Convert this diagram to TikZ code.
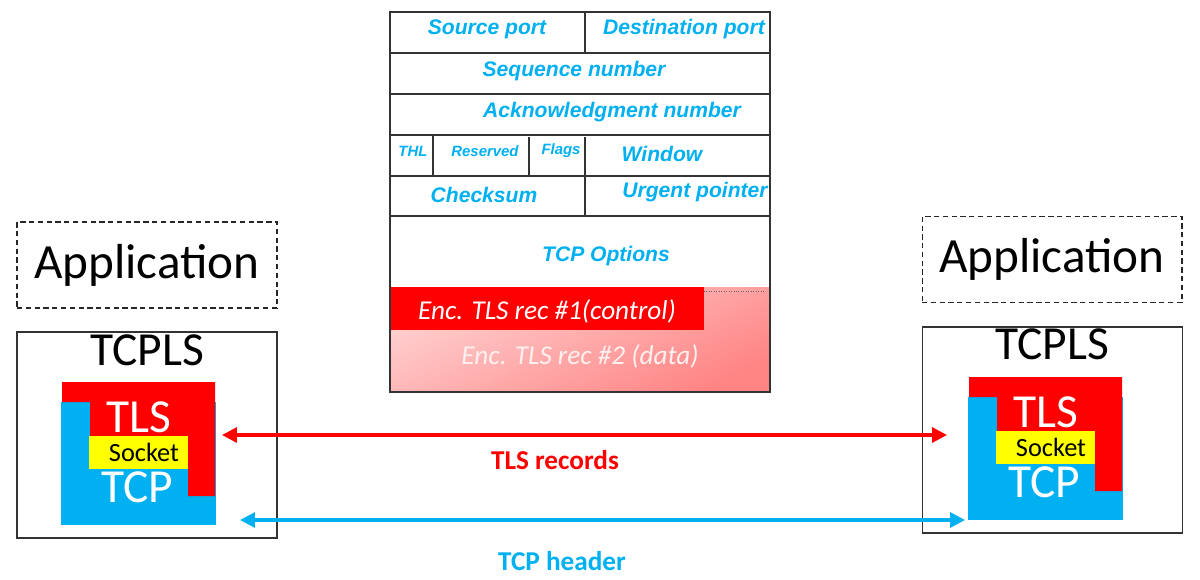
\documentclass[tikz,border=0pt]{standalone}
\usepackage{fontspec}
\setmainfont{Carlito}
\newfontfamily\hdrfont{Liberation Sans}
\usetikzlibrary{arrows, arrows.meta, positioning}
\definecolor{tcpblue}{RGB}{0,176,240}
\definecolor{tlsred}{RGB}{255,0,0}
\definecolor{sockyellow}{RGB}{255,255,0}
\tikzstyle{hdr} = [text=tcpblue, font=\hdrfont\bfseries\itshape\fontsize{12}{14}\selectfont, inner sep=0pt]
\tikzstyle{hdrsmall} = [hdr, font=\hdrfont\bfseries\itshape\fontsize{8.5}{10}\selectfont]
\tikzstyle{grid} = [draw=black!80, line width=0.8pt]
\tikzstyle{record} = [font=\itshape\fontsize{15.5}{18}\selectfont, inner sep=0pt]
\tikzstyle{appbox} = [draw=black!85, dash pattern=on 3pt off 2pt, line width=0.6pt, minimum width=5.2cm, minimum height=1.72cm, font=\fontsize{28}{30}\selectfont]
\tikzstyle{hostbox} = [draw=black!80, line width=0.7pt, minimum width=5.2cm, minimum height=4.12cm]
\tikzstyle{big} = [font=\fontsize{27}{30}\selectfont, inner sep=0pt, text height=17.4pt, text depth=0pt]
\tikzstyle{socket} = [font=\fontsize{15}{17}\selectfont, inner sep=0pt, text height=10pt, text depth=0pt]
\tikzstyle{label} = [font=\bfseries\fontsize{15.5}{18}\selectfont, inner sep=0pt]
\tikzstyle{arrow} = [line width=1.8pt, {Triangle[length=8.5pt,width=8.5pt]}-{Triangle[length=8.5pt,width=8.5pt]}]

\begin{document}
\begin{tikzpicture}[x=0.02cm, y=-0.02cm]
    \useasboundingbox (0,0) rectangle (1200,579);

    % TCP header with the encrypted records
    \shade[top color=red!18, bottom color=red!48, shading angle=25] (391,287) rectangle (770,392);
    \fill[tlsred] (391,287) rectangle (704,330);
    \draw[black!60, densely dotted] (704,291) -- (765,291);
    \draw[grid] (390,12) rectangle (770,392);
    \foreach \y in {53,94,135,176,216}
        \draw[grid] (390,\y) -- (770,\y);
    \draw[grid] (585,12) -- (585,53);
    \draw[grid] (433,135) -- (433,176);
    \draw[grid] (529,137) -- (529,176);
    \draw[grid] (585,137) -- (585,216);

    \node[hdr] (srcport) at (487,29) {Source port};
    \node[hdr] (dstport) at (684,29) {Destination port};
    \node[hdr] (seqnum) at (574,71) {Sequence number};
    \node[hdr] (acknum) at (612,112) {Acknowledgment number};
    \node[hdrsmall] (thl) at (413,151) {THL};
    \node[hdrsmall] (rsvd) at (485,151) {Reserved};
    \node[hdrsmall] (flags) at (561,151) {Flags};
    \node[hdr] (window) at (662,154) {Window};
    \node[hdr] (chksum) at (484,195) {Checksum};
    \node[hdr] (urgent) at (695,192) {Urgent pointer};
    \node[hdr] (options) at (606,256) {TCP Options};
    \node[record, text=white] (rec1) at (547,311) {Enc. TLS rec \#1(control)};
    \node[record, text=red!6] (rec2) at (580,356) {Enc. TLS rec \#2 (data)};

    % the two hosts
    \node[appbox] (appl) at (147,265) {Application};
    \node[appbox] (appr) at (1052,259.5) {Application};
    \node[hostbox] (hostl) at (147,435) {};
    \node[hostbox] (hostr) at (1052.5,430) {};
    \node[big] (tcplsl) at (147,350) {TCPLS};
    \node[big] (tcplsr) at (1052,344) {TCPLS};

    \foreach \dx/\dy/\side in {0/0/l, 907/-5/r} {
        \begin{scope}[shift={(\dx,\dy)}]
            \fill[tcpblue] (61,402) rectangle (216,525);
            \fill[tlsred] (62,382) -- (215,382) -- (215,496) -- (188,496) -- (188,436) -- (90,436) -- (90,402) -- (62,402) -- cycle;
            \fill[sockyellow] (89,436) rectangle (188,469);
            \node[big, text=white] (tls\side) at (139,417) {TLS};
            \node[socket] (sock\side) at (144,453) {Socket};
            \node[big, text=white] (tcp\side) at (137,487) {TCP};
        \end{scope}
    }

    % end to end exchange
    \coordinate (recl) at (222,435);
    \coordinate (recr) at (947,435);
    \coordinate (hdrl) at (240,520);
    \coordinate (hdrr) at (965,520);
    \draw[arrow, tlsred] (recl) -- (recr);
    \draw[arrow, tcpblue] (hdrl) -- (hdrr);
    \node[label, text=tlsred] (tlsrec) at (555,460) {TLS records};
    \node[label, text=tcpblue] (tcphdr) at (562,561) {TCP header};
\end{tikzpicture}
\end{document}
